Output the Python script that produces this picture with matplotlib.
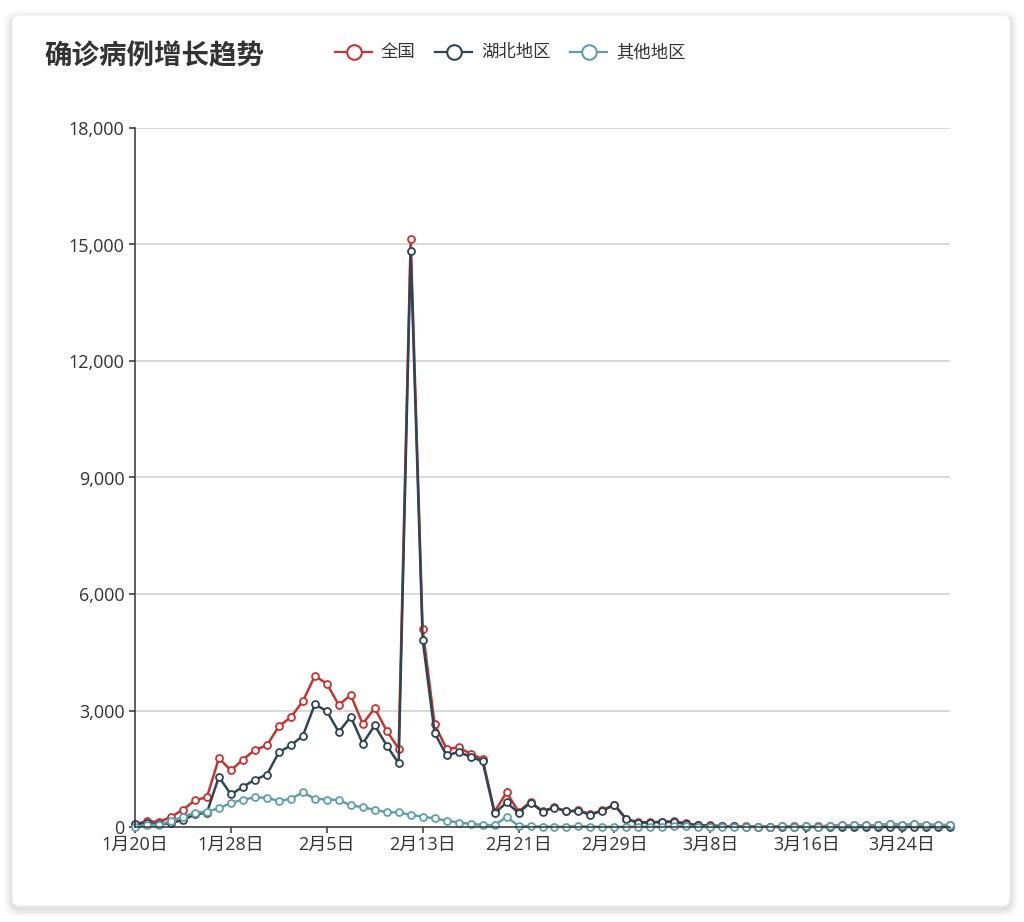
from datetime import date, timedelta
import matplotlib.pyplot as plt
from matplotlib.patches import FancyBboxPatch
from matplotlib.lines import Line2D
from matplotlib.ticker import FuncFormatter

plt.rcParams['font.family'] = ['Noto Sans CJK SC', 'DejaVu Sans']
tick_font = ['Open Sans', 'Noto Sans CJK SC', 'DejaVu Sans']

# daily new confirmed cases, 1月20日 .. 3月28日
start = date(2020, 1, 20)
n_days = 69
dates = [start + timedelta(days=i) for i in range(n_days)]
labels = [f"{d.month}月{d.day}日" for d in dates]

national = [77, 149, 131, 259, 444, 688, 769, 1771, 1459, 1737,
            1982, 2102, 2590, 2829, 3235, 3887, 3694, 3143, 3399, 2656,
            3062, 2478, 2015, 15152, 5090, 2641, 2009, 2048, 1886, 1749,
            394, 889, 397, 648, 409, 508, 406, 433, 327, 427,
            573, 202, 125, 119, 139, 143, 99, 44, 40, 19,
            24, 15, 8, 11, 20, 16, 21, 13, 34, 39,
            41, 46, 39, 78, 47, 67, 55, 54, 45]
hubei = [72, 105, 69, 105, 180, 323, 371, 1291, 840, 1032,
         1220, 1347, 1921, 2103, 2345, 3156, 2987, 2447, 2841, 2147,
         2618, 2097, 1638, 14840, 4823, 2420, 1843, 1933, 1807, 1693,
         349, 631, 366, 630, 398, 499, 401, 409, 318, 423,
         570, 196, 114, 115, 134, 126, 74, 41, 36, 17,
         13, 8, 5, 4, 4, 4, 1, 1, 0, 0,
         0, 0, 0, 0, 0, 1, 0, 0, 0]
others = [5, 44, 62, 154, 264, 365, 398, 480, 619, 705,
          762, 755, 669, 726, 890, 731, 707, 696, 558, 509,
          444, 381, 377, 312, 267, 221, 166, 115, 79, 56,
          45, 258, 31, 18, 11, 9, 5, 24, 9, 4,
          3, 6, 11, 4, 5, 17, 25, 3, 4, 2,
          11, 7, 3, 7, 16, 12, 20, 12, 34, 39,
          41, 46, 39, 78, 47, 66, 55, 54, 45]

series_names = ['全国', '湖北地区', '其他地区']
series_colors = ['#c23531', '#2f4554', '#61a0a8']
series_data = [national, hubei, others]

W, H = 1024, 922
fig = plt.figure(figsize=(W / 100, H / 100), dpi=100)
fig.patch.set_facecolor('#ffffff')

# background layer in pixel coordinates: card, title, legend
bg = fig.add_axes([0, 0, 1, 1], zorder=0)
bg.set_xlim(0, W)
bg.set_ylim(H, 0)
bg.axis('off')

for i, a in enumerate([0.02, 0.025, 0.03, 0.035]):
    g = 8 - 2 * i
    bg.add_patch(FancyBboxPatch((12 - g, 15 - g + 3), 998 + 2 * g, 891 + 2 * g,
                                boxstyle=f"round,pad=0,rounding_size={8 + g}",
                                fc='#000000', ec='none', alpha=a))
bg.add_patch(FancyBboxPatch((12, 15), 998, 891, boxstyle="round,pad=0,rounding_size=8",
                            fc='white', ec='#eeeeee', lw=0.6))

bg.text(44, 56, '确诊病例增长趋势', fontsize=19.8, fontweight='bold',
        color='#333333', va='center', ha='left')

legend_x = [335, 435, 570]
for x0, name, c in zip(legend_x, series_names, series_colors):
    bg.add_line(Line2D([x0, x0 + 37], [52, 52], color=c, lw=1.6))
    bg.plot([x0 + 18.5], [52], marker='o', markersize=10.5, mfc='white',
            mec=c, mew=1.5)
    bg.text(x0 + 46, 52, name, fontsize=12.5, color='#333333', va='center', ha='left')

# main chart
ax = fig.add_axes([135 / W, 1 - 827 / H, (950 - 135) / W, (827 - 128) / H], zorder=1)
ax.patch.set_alpha(0)

x = list(range(n_days))
for vals, c, name in zip(series_data, series_colors, series_names):
    ax.plot(x, vals, color=c, lw=1.8, marker='o', markersize=5, mfc='white',
            mec=c, mew=1.3, label=name, clip_on=False)

ax.set_xlim(0, n_days - 1)
ax.set_ylim(0, 18000)
ax.set_yticks(range(0, 18001, 3000))
ax.yaxis.set_major_formatter(FuncFormatter(lambda v, p: f"{int(v):,}"))
ax.set_xticks(x[::8])
ax.set_xticklabels(labels[::8])

ax.grid(axis='y', color='#d0d0d0', lw=1.1)
ax.set_axisbelow(True)
for s in ['top', 'right']:
    ax.spines[s].set_visible(False)
for s in ['left', 'bottom']:
    ax.spines[s].set_color('#333333')
    ax.spines[s].set_linewidth(1.1)
ax.tick_params(axis='both', colors='#333333', labelsize=13, length=4.5, width=1.1)
ax.tick_params(axis='y', pad=3)
ax.tick_params(axis='x', pad=2)
for lab in ax.get_xticklabels() + ax.get_yticklabels():
    lab.set_family(tick_font)

fig.savefig('out.png', dpi=100)
